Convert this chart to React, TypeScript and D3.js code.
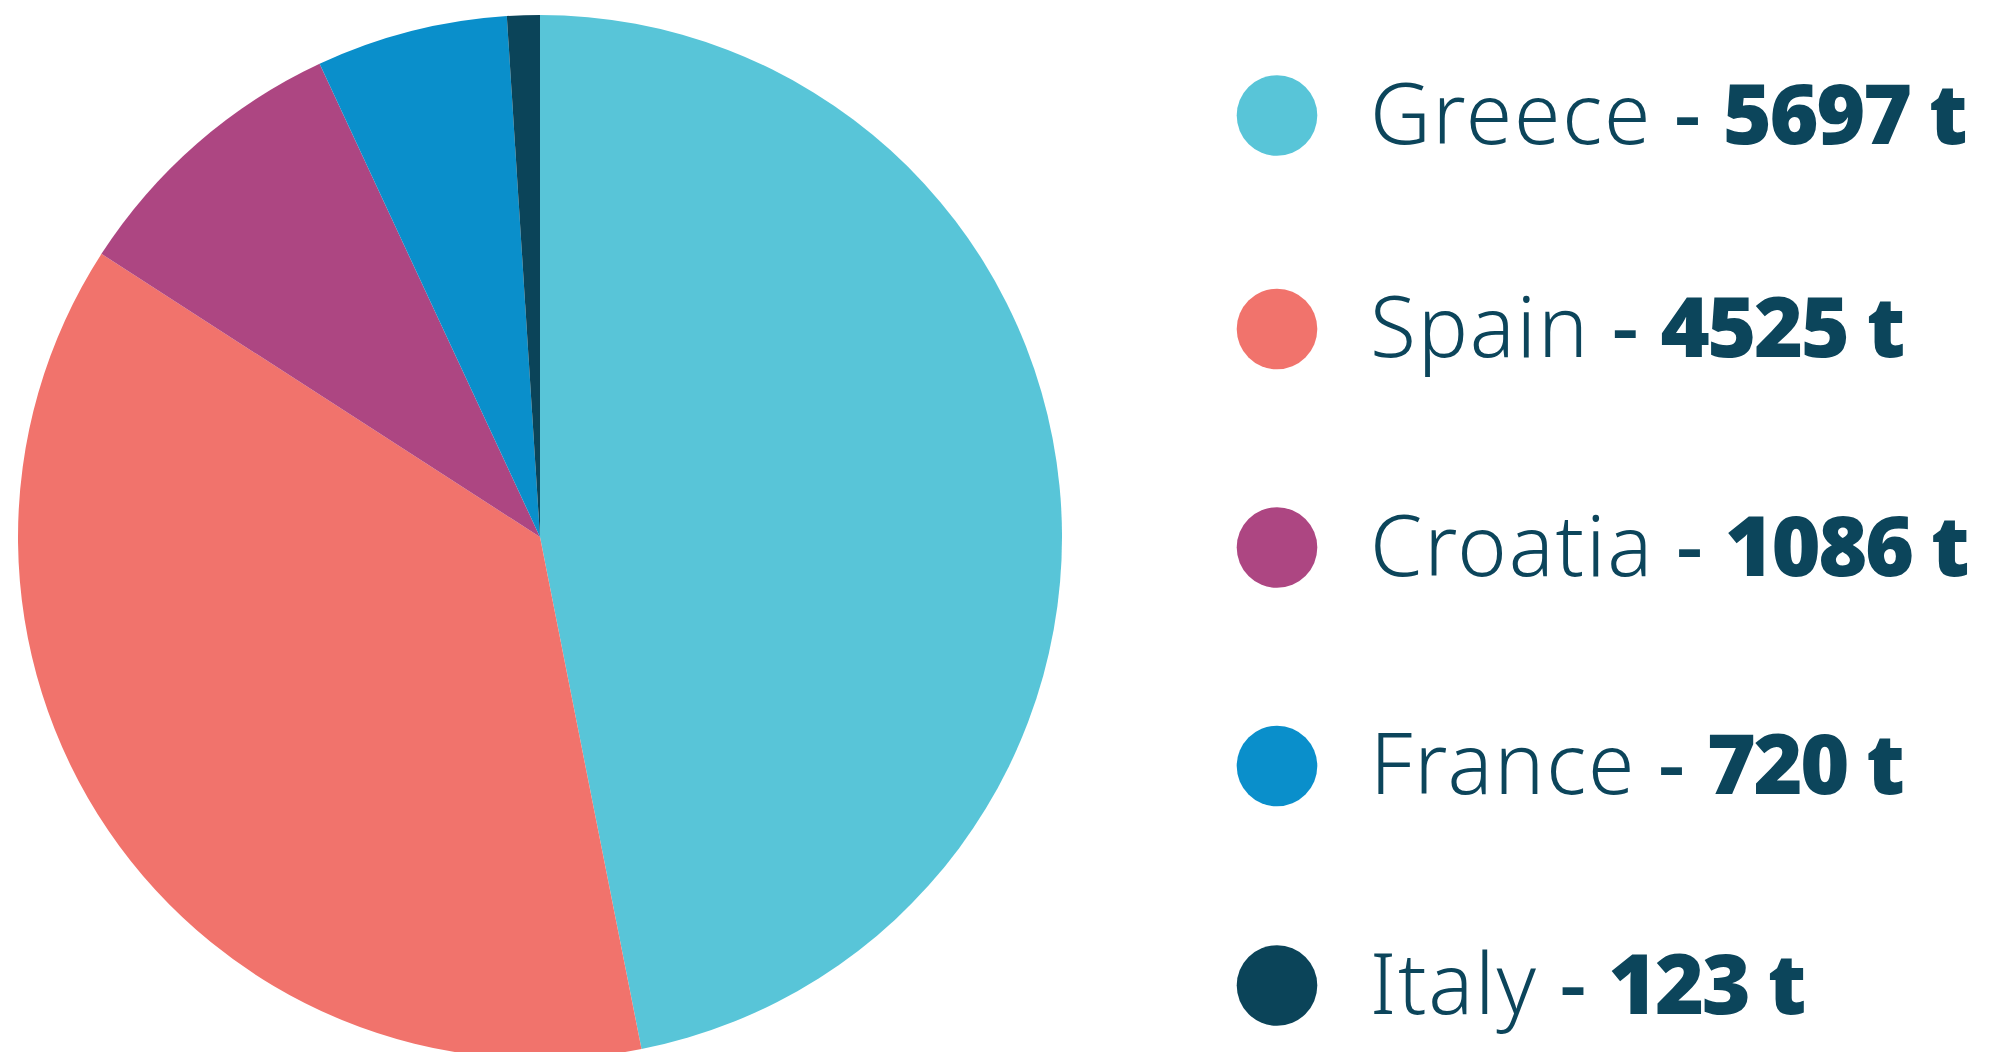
import React from "react";
import { pie, arc, scaleOrdinal } from "d3";

const countries = ["Greece", "Spain", "Croatia", "France", "Italy"];
const tonnes = [5697, 4525, 1086, 720, 123];
const colors = ["#58c5d8", "#f1736c", "#ad4682", "#0a8fcb", "#0b4459"];

const textColor = "#0c455b";

export default function App() {
  const width = 1994;
  const height = 1052;
  const cx = 540;
  const cy = 537;
  const radius = 522;

  const color = scaleOrdinal<string, string>().domain(countries).range(colors);
  const slices = pie<number>().sort(null)(tonnes);
  const arcGen = arc<any>().innerRadius(0).outerRadius(radius);

  // legend rows, y of each circle centre
  const legendX = 1277;
  const rowY = [115.5, 329, 547.5, 766, 985.5];

  return (
    <svg
      width={width}
      height={height}
      style={{ position: "absolute", left: 0, top: 0, background: "white" }}
    >
      <g transform={`translate(${cx},${cy})`}>
        {slices.map((s, i) => (
          <path key={i} d={arcGen(s) as string} fill={color(countries[i])} />
        ))}
      </g>
      {countries.map((c, i) => {
        const y = rowY[i];
        return (
          <g key={c}>
            <circle cx={legendX} cy={y} r={40.3} fill={color(c)} />
            <text
              x={1370}
              y={y + 28}
              fill={textColor}
              style={{ fontFamily: "'Noto Sans', sans-serif", fontSize: 84 }}
            >
              <tspan fontWeight={300} letterSpacing={1.8}>
                {c}
              </tspan>
              <tspan fontWeight={500}>{" - "}</tspan>
              <tspan fontWeight={900} letterSpacing={-2.5}>
                {tonnes[i] + " t"}
              </tspan>
            </text>
          </g>
        );
      })}
    </svg>
  );
}
